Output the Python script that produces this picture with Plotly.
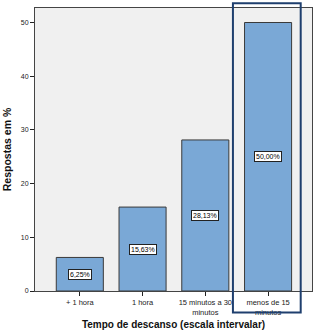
import plotly.graph_objects as go

categories = ["+ 1 hora", "1 hora", "15 minutos a 30<br>minutos", "menos de 15<br>minutos"]
values = [6.25, 15.63, 28.13, 50.00]
value_labels = ["6,25%", "15,63%", "28,13%", "50,00%"]
highlight_index = 3
y_ticks = [0, 10, 20, 30, 40, 50]

x_idx = list(range(len(categories)))

fig = go.Figure()
fig.add_trace(go.Bar(
    x=x_idx, y=values,
    marker=dict(color="#7aa8d6", line=dict(color="#3a3a3a", width=1)),
    width=0.75,
    hoverinfo="skip",
))

for i, v, lab in zip(x_idx, values, value_labels):
    fig.add_annotation(
        x=i, y=v / 2, text=lab, showarrow=False,
        font=dict(family="Liberation Sans", size=7, color="#000"),
        bgcolor="white", bordercolor="#222", borderwidth=1, borderpad=1,
        xref="x", yref="y",
    )

fig.add_shape(
    type="rect", xref="x", yref="paper",
    x0=highlight_index - 0.56, x1=highlight_index + 0.52,
    y0=-0.076, y1=1.017,
    line=dict(color="#1f3f6e", width=2),
    fillcolor="rgba(0,0,0,0)", layer="above",
)

fig.update_layout(
    width=315, height=331,
    margin=dict(l=35, r=2, t=8, b=34),
    paper_bgcolor="white", plot_bgcolor="#f0f0f0",
    showlegend=False,
    font=dict(family="Liberation Sans", size=7, color="#222"),
    xaxis=dict(
        range=[-0.714, 3.7],
        tickmode="array", tickvals=x_idx, ticktext=categories,
        ticks="outside", ticklen=4, tickcolor="#222",
        showline=True, linecolor="#444", linewidth=1, mirror=True,
        showgrid=False, zeroline=False,
        tickfont=dict(size=7.5, family="Liberation Sans", color="#222"),
        title=dict(text="<b>Tempo de descanso (escala intervalar)</b>",
                   font=dict(size=10, family="Liberation Sans", color="#111"),
                   standoff=5),
    ),
    yaxis=dict(
        range=[0, 52.7],
        tickmode="array", tickvals=y_ticks,
        ticks="outside", ticklen=4, tickcolor="#222",
        showline=True, linecolor="#444", linewidth=1, mirror=True,
        showgrid=False, zeroline=False,
        tickfont=dict(size=7, family="Liberation Sans", color="#222"),
        title=dict(text="<b>Respostas em %</b>",
                   font=dict(size=10.5, family="Liberation Sans", color="#111"),
                   standoff=7),
    ),
)

fig.write_html("out.html")
